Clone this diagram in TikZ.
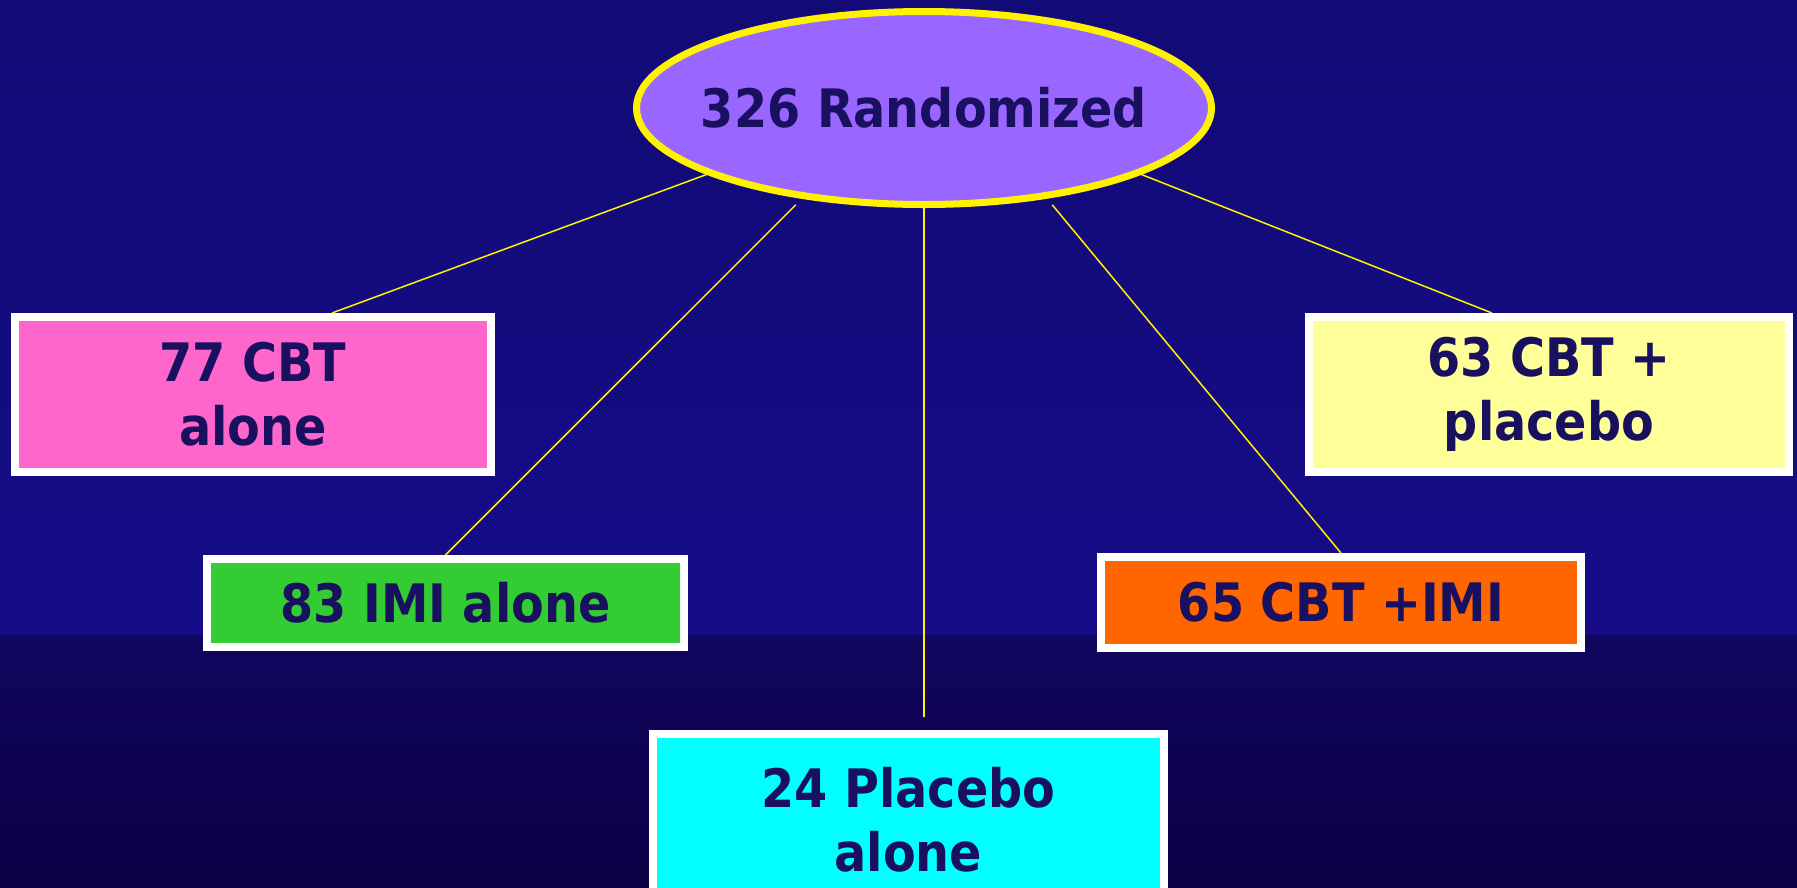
\documentclass[tikz,border=0pt]{standalone}
\usepackage{fontspec}
\setmainfont{DejaVu Sans Condensed}
\usetikzlibrary{shapes.geometric,calc}
\definecolor{navytext}{HTML}{1A1060}
\definecolor{bgtop}{HTML}{120A76}
\definecolor{bgmid}{HTML}{160C88}
\definecolor{bglow}{HTML}{10065E}
\definecolor{bgbot}{HTML}{0C0046}
\definecolor{lilac}{HTML}{9966FF}
\definecolor{pinkbox}{HTML}{FF66CC}
\definecolor{greenbox}{HTML}{33CC33}
\definecolor{cyanbox}{HTML}{00FFFF}
\definecolor{orangebox}{HTML}{FF6600}
\definecolor{creambox}{HTML}{FFFF99}
\begin{document}
\begin{tikzpicture}[x=1pt, y=-1pt,
        arm/.style={draw=white, line width=8pt, inner sep=0pt, align=center, text=navytext, font=\fontsize{53}{64}\selectfont\bfseries},
        link/.style={draw=yellow, line width=1.5pt}]
        \useasboundingbox (0,0) rectangle (1797,887);
        \fill[top color=bgtop, bottom color=bgmid] (0,0) rectangle (1797,635);
        \fill[top color=bglow, bottom color=bgbot] (0,635) rectangle (1797,887);
        \node[ellipse, draw=yellow, line width=7pt, fill=lilac, minimum width=575pt, minimum height=193pt, inner sep=0pt, text=navytext, font=\fontsize{53}{64}\selectfont\bfseries] (rand) at (924,108) {\makebox[0pt]{326 Randomized}};
        \node[arm, fill=pinkbox, minimum width=476pt, minimum height=155pt] (cbt) at (253,394.5) {77 CBT\\alone};
        \node[arm, fill=greenbox, minimum width=477pt, minimum height=88pt] (imi) at (445.5,603) {83 IMI alone};
        \node[arm, fill=cyanbox, minimum width=511pt, minimum height=172pt] (plac) at (908.5,820) {24 Placebo\\alone};
        \node[arm, fill=orangebox, minimum width=480pt, minimum height=91pt] (cbtimi) at (1341,602.5) {65 CBT +IMI};
        \node[arm, fill=creambox, minimum width=480pt, minimum height=155pt] (cbtplac) at (1549,394.5) {63 CBT +\\placebo};
        \draw[link] (rand.197) -- ([xshift=79pt]cbt.north);
        \draw[link] ([yshift=-7pt]rand.215) -- (imi.north);
        \draw[link] (rand.south) -- ([yshift=13pt]rand.south |- plac.north);
        \draw[link] ([yshift=-7pt]rand.325) -- (cbtimi.north);
        \draw[link] (rand.343.5) -- ([xshift=-57pt]cbtplac.north);
\end{tikzpicture}
\end{document}
